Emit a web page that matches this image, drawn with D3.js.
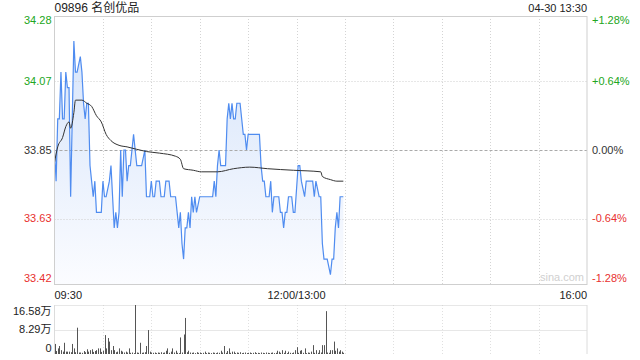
<!DOCTYPE html>
<html>
<head>
<meta charset="utf-8">
<script src="https://cdn.jsdelivr.net/npm/d3@7"></script>
<style>
  body { margin: 0; background: #fff; }
  svg { display: block; font-family: "Liberation Sans", Arial, "Noto Sans CJK SC", sans-serif; }
</style>
</head>
<body>
<svg id="chart" width="640" height="360"></svg>
<script>
// minute offsets from 09:30 (lunch break removed) and traded price at those minutes
const priceMinutes = [0, 1, 2, 3, 4, 5, 6, 7, 8, 9, 10, 12, 13, 14, 16, 17, 18, 19, 20, 21,
    22, 23, 24, 25, 26, 29, 30, 31, 32, 34, 35, 36, 37, 38, 39, 40, 41, 42, 43, 44,
    45, 46, 47, 48, 49, 50, 51, 54, 56, 57, 59, 60, 61, 62, 63, 65, 66, 68, 69, 71,
    72, 75, 76, 77, 78, 79, 80, 81, 82, 83, 84, 85, 86, 87, 88, 90, 98, 99, 100, 101,
    102, 103, 106, 107, 108, 109, 110, 111, 112, 113, 115, 117, 118, 119, 120, 127, 128, 129, 130, 131,
    133, 134, 135, 136, 139, 140, 141, 142, 143, 144, 145, 147, 148, 149, 151, 152, 153, 155, 156, 160,
    161, 162, 164, 165, 166, 167, 169, 171, 172, 173, 174, 175, 176, 177, 179];
const prices = [33.85, 33.75, 33.95, 33.95, 34.10, 33.95, 33.95, 34.10, 34.05, 34.05, 33.70, 34.20, 34.10, 34.10, 34.15, 34.10, 34.00, 33.95, 34.00, 34.00,
    33.80, 33.75, 33.70, 33.75, 33.65, 33.65, 33.75, 33.70, 33.70, 33.75, 33.80, 33.70, 33.60, 33.65, 33.60, 33.65, 33.85, 33.70, 33.85, 33.85,
    33.75, 33.80, 33.80, 33.85, 33.90, 33.85, 33.80, 33.80, 33.85, 33.70, 33.70, 33.75, 33.70, 33.70, 33.75, 33.75, 33.70, 33.70, 33.75, 33.75,
    33.70, 33.70, 33.65, 33.60, 33.65, 33.55, 33.50, 33.60, 33.60, 33.65, 33.60, 33.70, 33.65, 33.70, 33.65, 33.70, 33.70, 33.75, 33.70, 33.80,
    33.85, 33.80, 33.80, 33.95, 34.00, 33.95, 34.00, 33.95, 33.95, 34.00, 34.00, 33.90, 33.90, 33.85, 33.90, 33.90, 33.80, 33.75, 33.75, 33.70,
    33.70, 33.75, 33.65, 33.70, 33.70, 33.65, 33.65, 33.60, 33.65, 33.65, 33.70, 33.70, 33.65, 33.65, 33.80, 33.80, 33.75, 33.70, 33.75, 33.75,
    33.70, 33.75, 33.70, 33.70, 33.55, 33.50, 33.50, 33.45, 33.50, 33.50, 33.60, 33.65, 33.60, 33.70, 33.70];

// average price line
const avgMinutes = [0, 2, 5, 7, 9, 10, 12, 13, 17, 20, 23, 26, 29, 32, 35, 40, 45, 57, 65, 75,
    78, 80, 86, 91, 101, 111, 121, 132, 148, 165, 166, 171, 175, 179];
const avgPrices = [33.81, 33.86, 33.89, 33.925, 33.94, 33.92, 33.97, 34.01, 34.01, 34.00, 33.99, 33.96, 33.94, 33.90, 33.88, 33.865, 33.86, 33.845, 33.84, 33.83,
    33.82, 33.79, 33.785, 33.78, 33.78, 33.79, 33.795, 33.79, 33.785, 33.78, 33.765, 33.755, 33.75, 33.75];

// volume per minute, in 万 shares
const volumes = [3.4, 1.0, 1.9, 2.7, 1.3, 0.8, 3.8, 0.8, 0.8, 0.8, 0.6, 3.4, 1.9, 0.6, 8.9, 0.5, 0.5, 0.4, 1.0, 0.6,
    1.6, 0.8, 1.3, 1.6, 0.7, 1.0, 1.3, 1.9, 1.9, 0.7, 1.1, 6.4, 1.9, 5.4, 4.2, 1.3, 2.7, 1.3, 0.6, 0.8,
    1.9, 1.1, 0.8, 0.5, 0.8, 0.5, 1.9, 0.4, 0.5, 0.3, 16.58, 0.5, 0.4, 3.8, 0.4, 0.5, 0.6, 2.7, 8.1, 0.8,
    0.5, 0.4, 0.5, 0.3, 0.5, 0.4, 0.6, 0.4, 0.5, 1.1, 1.9, 0.4, 0.8, 1.9, 0.5, 1.1, 0.4, 0.3, 5.6, 0.5,
    6.6, 12.2, 0.6, 1.1, 0.5, 0.4, 0.5, 0.3, 0.6, 0.4, 0.5, 0.3, 0.4, 0.8, 0.3, 0.5, 0.4, 0.3, 0.5, 0.4,
    0.3, 0.5, 0.4, 1.1, 0.5, 2.7, 0.4, 1.0, 1.9, 0.4, 0.8, 0.8, 0.3, 0.5, 0.4, 0.6, 0.3, 0.4, 0.5, 0.3,
    0.4, 0.5, 0.3, 0.4, 0.6, 0.3, 0.4, 0.3, 0.5, 0.4, 0.3, 0.5, 0.4, 0.3, 0.4, 0.5, 0.3, 0.4, 1.1, 0.8,
    0.4, 1.3, 0.4, 1.1, 0.3, 0.8, 0.4, 0.3, 0.5, 1.3, 2.3, 0.4, 1.1, 1.3, 0.4, 1.9, 0.3, 0.5, 0.4, 0.8,
    3.0, 0.4, 1.3, 0.4, 1.3, 0.5, 3.0, 3.0, 14.5, 0.5, 0.4, 1.3, 1.3, 4.2, 1.1, 1.9, 0.8, 1.3, 0.8, 0.4];

const priceTicks = [34.28, 34.07, 33.85, 33.63, 33.42];
const pctTicks = ['+1.28%', '+0.64%', '0.00%', '-0.64%', '-1.28%'];
const volTicks = [16.58, 8.29, 0];
const volTickLabels = ['16.58万', '8.29万', '0'];
const timeLabels = ['09:30', '12:00/13:00', '16:00'];
const timeLabelMinutes = [0, 150, 330];

const title = '09896 名创优品';
const stamp = '04-30 13:30';

const svg = d3.select('#chart');
const pLeft = 54.5, pRight = 587;
const pTop = 16, pBottom = 284;
const vTop = 305, vBottom = 354;
const green = '#21a621', red = '#e8312f', lineBlue = '#4f8cf0';

const x = d3.scaleLinear().domain([0, 330]).range([pLeft, pRight]);
const y = d3.scaleLinear().domain([33.42, 34.28]).range([pBottom, pTop]);
const yVol = d3.scaleLinear().domain([0, 16.58]).range([vBottom, vTop]);

const tickColor = (i) => i < 2 ? green : (i === 2 ? '#333' : red);
const snap = v => Math.round(v) + 0.5;

// gradient for the area under the price line
const grad = svg.append('defs').append('linearGradient')
    .attr('id', 'fillGrad')
    .attr('gradientUnits', 'userSpaceOnUse')
    .attr('x1', 0).attr('y1', pTop).attr('x2', 0).attr('y2', pBottom);
grad.append('stop').attr('offset', '0%').attr('stop-color', '#d3e2fa');
grad.append('stop').attr('offset', '100%').attr('stop-color', '#fbfcff');

// vertical grid, both panels
const gridMinutes = d3.range(30, 330, 30);
svg.append('g').selectAll('line')
    .data(gridMinutes)
    .join('line')
    .attr('x1', d => snap(x(d))).attr('x2', d => snap(x(d)))
    .attr('y1', pTop).attr('y2', pBottom)
    .attr('stroke', '#d4d4d4').attr('stroke-dasharray', '1,2');

svg.append('g').selectAll('line')
    .data(gridMinutes)
    .join('line')
    .attr('x1', d => snap(x(d))).attr('x2', d => snap(x(d)))
    .attr('y1', vTop).attr('y2', vBottom)
    .attr('stroke', '#e0e0e0').attr('stroke-dasharray', '1,2');

// area under price
const pts = priceMinutes.map((m, i) => [m, prices[i]]);
svg.append('path')
    .datum(pts)
    .attr('fill', 'url(#fillGrad)')
    .attr('d', d3.area().x(d => x(d[0])).y0(pBottom).y1(d => y(d[1])));

// horizontal grid
svg.append('g').selectAll('line')
    .data([priceTicks[1], priceTicks[3]])
    .join('line')
    .attr('x1', pLeft).attr('x2', pRight)
    .attr('y1', d => snap(y(d))).attr('y2', d => snap(y(d)))
    .attr('stroke', '#cfcfcf').attr('stroke-dasharray', '1,2');
svg.append('line')
    .attr('x1', pLeft).attr('x2', pRight)
    .attr('y1', snap(y(priceTicks[2]))).attr('y2', snap(y(priceTicks[2])))
    .attr('stroke', '#aaa').attr('stroke-dasharray', '3,2');

svg.append('path')
    .datum(pts)
    .attr('fill', 'none')
    .attr('stroke', lineBlue)
    .attr('stroke-width', 1.2)
    .attr('d', d3.line().x(d => x(d[0])).y(d => y(d[1])));

svg.append('path')
    .datum(avgMinutes.map((m, i) => [m, avgPrices[i]]))
    .attr('fill', 'none')
    .attr('stroke', '#333')
    .attr('stroke-width', 1)
    .attr('d', d3.line().curve(d3.curveMonotoneX).x(d => x(d[0])).y(d => y(d[1])));

// price panel frame
svg.append('rect')
    .attr('x', pLeft).attr('y', pTop + 0.5)
    .attr('width', pRight - pLeft).attr('height', pBottom - pTop)
    .attr('fill', 'none').attr('stroke', '#cfcfcf');

// left / right labels
svg.append('g').selectAll('text')
    .data(priceTicks)
    .join('text')
    .attr('x', pLeft - 3)
    .attr('y', (d, i) => y(d) + (i === 0 ? 4 : i === 4 ? -6 : 0))
    .attr('dy', '0.35em')
    .attr('text-anchor', 'end')
    .attr('font-size', 11)
    .attr('fill', (d, i) => tickColor(i))
    .text(d => d.toFixed(2));

svg.append('g').selectAll('text')
    .data(priceTicks)
    .join('text')
    .attr('x', pRight + 5)
    .attr('y', (d, i) => y(d) + (i === 0 ? 4 : i === 4 ? -6 : 0))
    .attr('dy', '0.35em')
    .attr('font-size', 11)
    .attr('fill', (d, i) => tickColor(i))
    .text((d, i) => pctTicks[i]);

// watermark
svg.append('text')
    .attr('x', pRight - 3).attr('y', pBottom - 3)
    .attr('text-anchor', 'end')
    .attr('font-size', 11)
    .attr('fill', '#d0d0d0')
    .text('sina.com');

// header
svg.append('text')
    .attr('x', pLeft).attr('y', 12)
    .attr('font-size', 12).attr('fill', '#222')
    .text(title);
svg.append('text')
    .attr('x', pRight).attr('y', 12)
    .attr('text-anchor', 'end')
    .attr('font-size', 11).attr('fill', '#222')
    .text(stamp);

// time labels
svg.append('g').selectAll('text')
    .data(timeLabels)
    .join('text')
    .attr('x', (d, i) => x(timeLabelMinutes[i]))
    .attr('y', 299)
    .attr('text-anchor', (d, i) => i === 0 ? 'start' : i === 1 ? 'middle' : 'end')
    .attr('font-size', 11).attr('fill', '#222')
    .text(d => d);

// volume panel
svg.append('g').selectAll('line')
    .data([16.58, 8.29])
    .join('line')
    .attr('x1', pLeft).attr('x2', pRight)
    .attr('y1', d => snap(yVol(d))).attr('y2', d => snap(yVol(d)))
    .attr('stroke', '#cfcfcf').attr('stroke-dasharray', '1,1');
svg.append('g').selectAll('line')
    .data([pLeft, pRight])
    .join('line')
    .attr('x1', d => d).attr('x2', d => d)
    .attr('y1', vTop).attr('y2', vBottom)
    .attr('stroke', '#dcdcdc');

svg.append('g').selectAll('line')
    .data(volumes)
    .join('line')
    .attr('x1', (d, i) => snap(x(i))).attr('x2', (d, i) => snap(x(i)))
    .attr('y1', vBottom).attr('y2', d => yVol(d))
    .attr('stroke', '#555').attr('stroke-width', 1);

svg.append('g').selectAll('text')
    .data(volTicks)
    .join('text')
    .attr('x', pLeft - 3)
    .attr('y', (d, i) => yVol(d) + (i === 0 ? 6 : i === 2 ? -6 : 0))
    .attr('dy', '0.35em')
    .attr('text-anchor', 'end')
    .attr('font-size', 11).attr('fill', '#222')
    .text((d, i) => volTickLabels[i]);
</script>
</body>
</html>
